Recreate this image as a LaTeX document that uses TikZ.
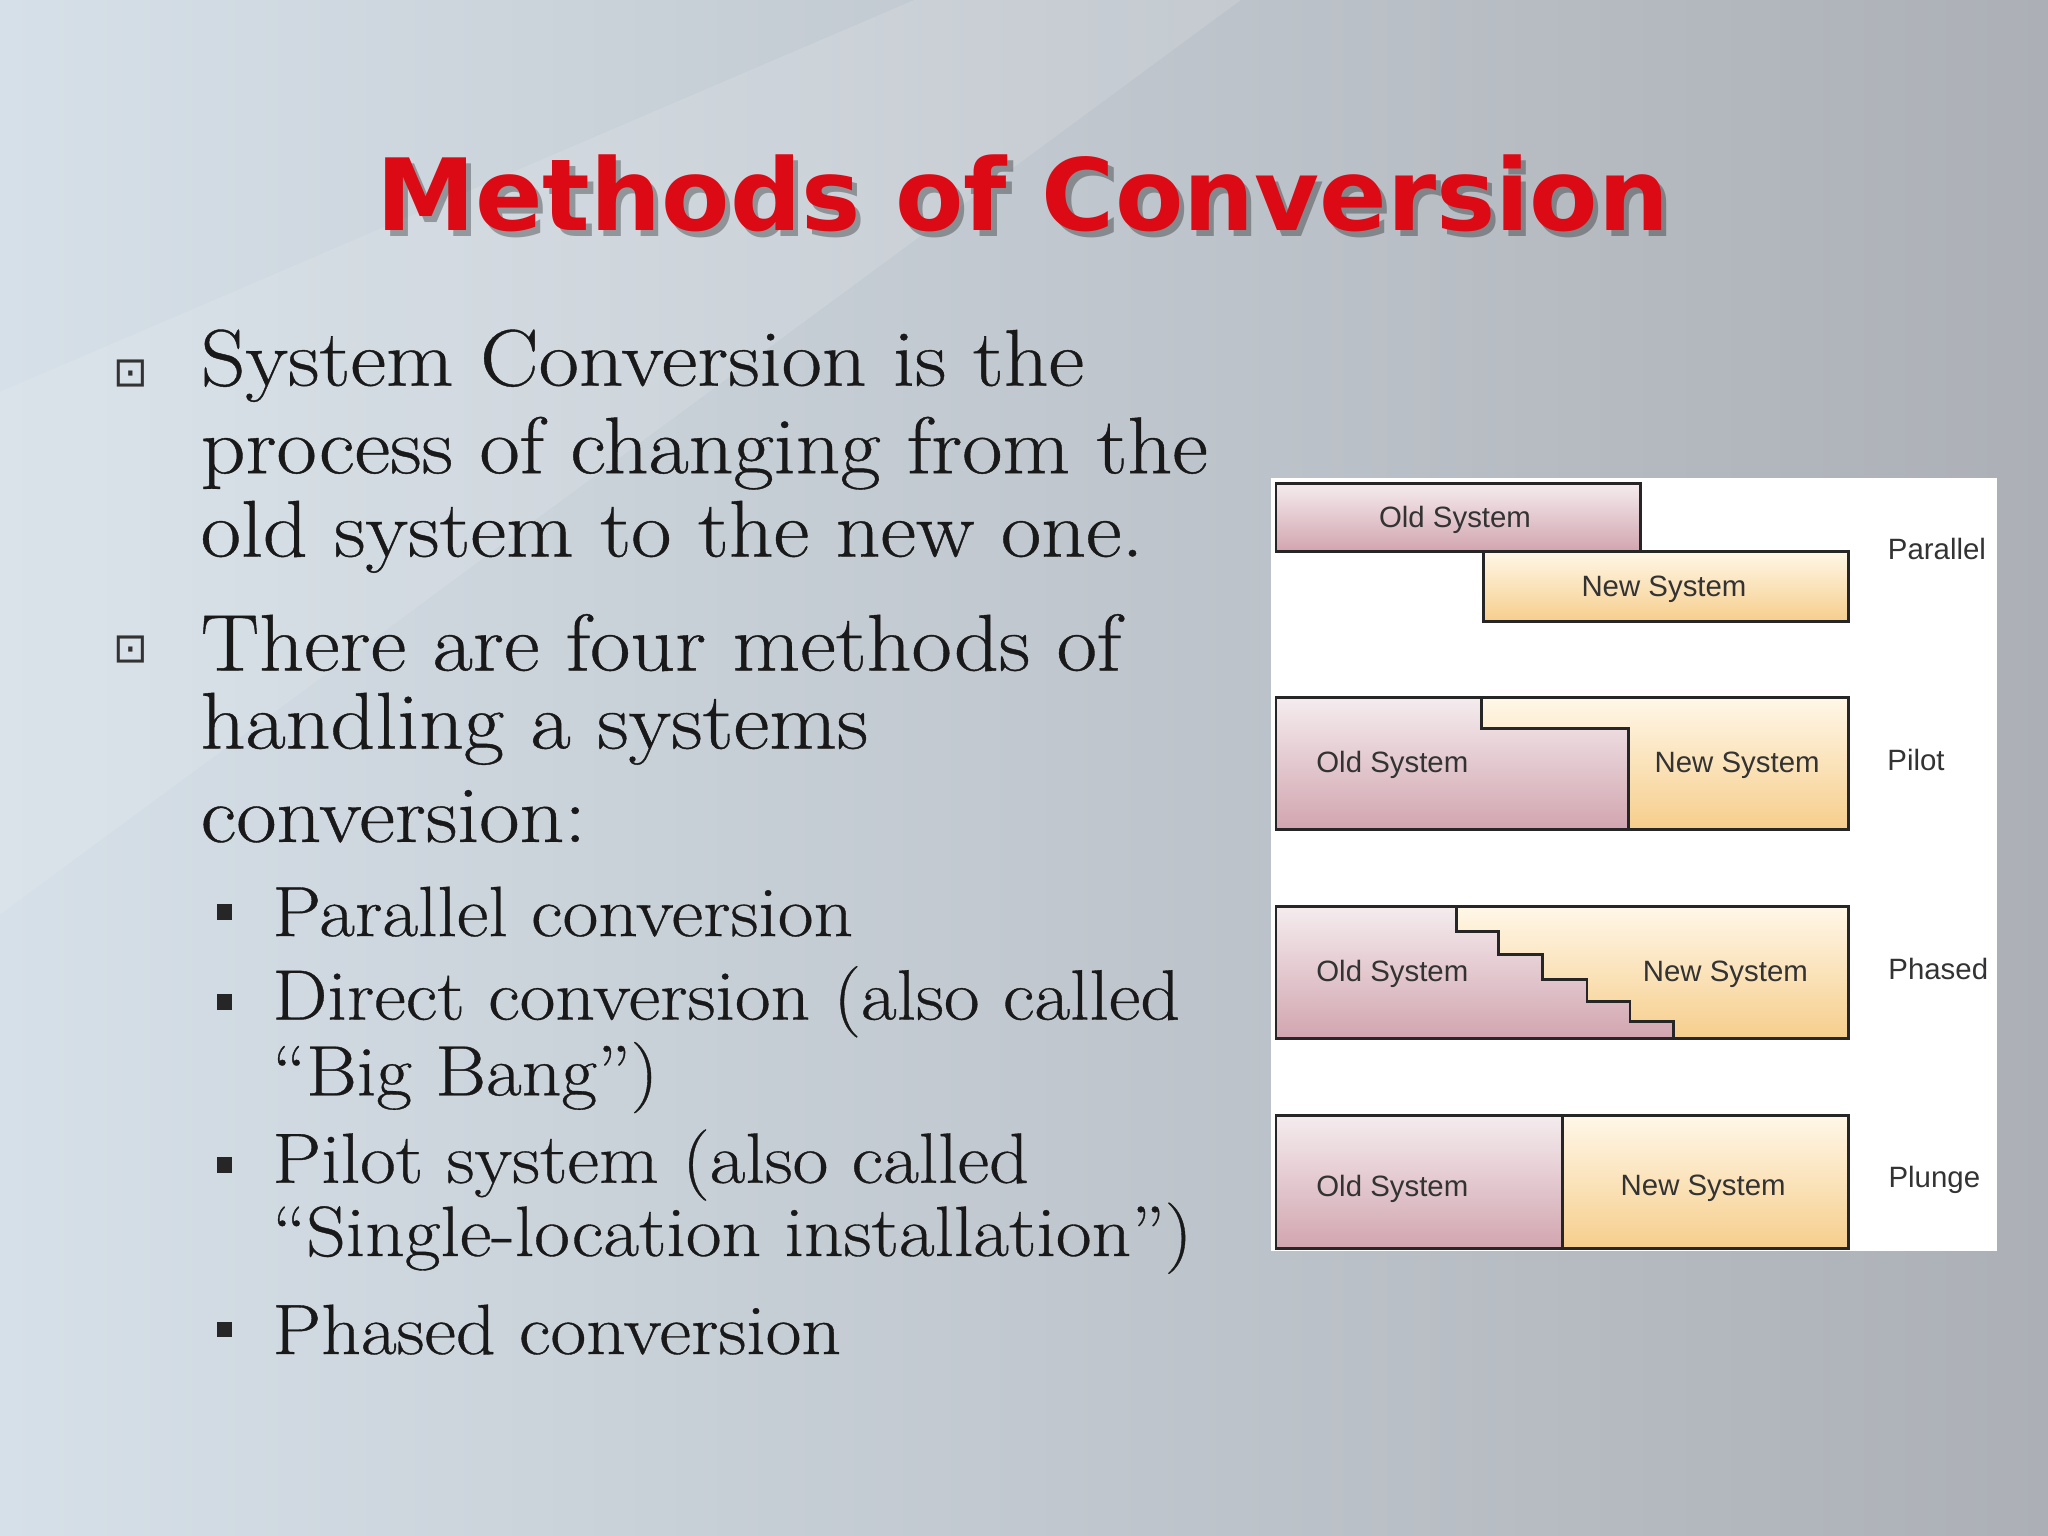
\documentclass[tikz,border=0pt]{standalone}
\usepackage{fontspec}
\setmainfont{Latin Modern Roman}[FakeStretch=1.09,FakeBold=0.5]
\setsansfont{Liberation Sans}
\newfontfamily\titlefont{DejaVu Sans}
\newfontfamily\symfont{DejaVu Sans}
\definecolor{bgL}{RGB}{214,224,232}
\definecolor{bgR}{RGB}{172,176,182}
\definecolor{oldT}{RGB}{244,236,238}
\definecolor{oldB}{RGB}{210,165,176}
\definecolor{newT}{RGB}{255,247,232}
\definecolor{newB}{RGB}{246,206,140}
\definecolor{ttl}{RGB}{220,10,20}
\tikzset{
 oldbox/.style={top color=oldT,bottom color=oldB,draw=black!85,line width=0.6pt},
 newbox/.style={top color=newT,bottom color=newB,draw=black!85,line width=0.6pt},
 boxtxt/.style={font=\sffamily\fontsize{6.4}{8}\selectfont,text=black!80,inner sep=0},
 lbl/.style={font=\sffamily\fontsize{6.4}{8}\selectfont,text=black!80,inner sep=0},
 body/.style={anchor=west,inner sep=0,font=\fontsize{17.5}{20}\selectfont,text=black!90},
 sub/.style={anchor=west,inner sep=0,font=\fontsize{15.5}{18}\selectfont,text=black!90},
 bul/.style={inner sep=0,font=\symfont\fontsize{9}{10}\selectfont,text=black!80},
}
\begin{document}
\begin{tikzpicture}[x=0.01cm,y=-0.01cm]
\useasboundingbox (0,0) rectangle (1568,1176);
\shade[left color=bgL,right color=bgR] (0,0) rectangle (1568,1176);
\fill[white,opacity=0.12] (0,300) -- (700,0) -- (950,0) -- (0,700) -- cycle;
% title
\node[font=\titlefont\bfseries\fontsize{21.7}{26}\selectfont,text=black,opacity=0.3] at (787,153) {Methods of Conversion};
\node[font=\titlefont\bfseries\fontsize{21.7}{26}\selectfont,text=ttl] (title) at (783,148) {Methods of Conversion};
% bullets
\node[bul] (b1) at (100,286) {⊡};
\node[body] (t1) at (153,280) {System Conversion is the};
\node[body] (t2) at (153,347) {process of changing from the};
\node[body] (t3) at (153,411) {old system to the new one.};
\node[bul] (b2) at (100,497) {⊡};
\node[body] (t4) at (153,492) {There are four methods of};
\node[body] (t5) at (153,558) {handling a systems};
\node[body] (t6) at (153,625) {conversion:};
\foreach \y in {698,767,892,1018}{
  \fill[black!85] (166,{\y-6}) rectangle (178,{\y+6});
}
\node[sub] (s1) at (208,698) {Parallel conversion};
\node[sub] (s2) at (208,767) {Direct conversion (also called};
\node[sub] (s2b) at (208,825) {“Big Bang”)};
\node[sub] (s3) at (208,892) {Pilot system (also called};
\node[sub] (s3b) at (208,948) {“Single-location installation”)};
\node[sub] (s4) at (208,1018) {Phased conversion};
% panel
\fill[white] (973,366) rectangle (1529,958);
% parallel
\draw[oldbox] (977,370) rectangle (1256,422);
\draw[newbox] (1136,422) rectangle (1415,476);
\node[boxtxt] at (1114,398) {Old System};
\node[boxtxt] at (1274,451) {New System};
\node[lbl] at (1483,420) {Parallel};
% pilot
\fill[newbox,draw=none] (977,534) rectangle (1415,635);
\fill[oldbox,draw=none] (977,534) -- (1134,534) -- (1134,558) -- (1247,558) -- (1247,635) -- (977,635) -- cycle;
\draw[black!85,line width=0.6pt] (1134,534) -- (1134,558) -- (1247,558) -- (1247,635);
\draw[black!85,line width=0.6pt] (977,534) rectangle (1415,635);
\node[boxtxt] at (1066,586) {Old System};
\node[boxtxt] at (1330,586) {New System};
\node[lbl] at (1467,582) {Pilot};
% phased
\fill[newbox,draw=none] (977,694) rectangle (1415,795);
\fill[oldbox,draw=none] (977,694) -- (1115,694) |- (1147,713) |- (1181,731) |- (1215,750) |- (1248,767) |- (1281,782) -- (1281,795) -- (977,795) -- cycle;
\draw[black!85,line width=0.6pt] (1115,694) |- (1147,713) |- (1181,731) |- (1215,750) |- (1248,767) |- (1281,782) -- (1281,795);
\draw[black!85,line width=0.6pt] (977,694) rectangle (1415,795);
\node[boxtxt] at (1066,746) {Old System};
\node[boxtxt] at (1321,746) {New System};
\node[lbl] at (1484,742) {Phased};
% plunge
\draw[oldbox] (977,854) rectangle (1196,956);
\draw[newbox] (1196,854) rectangle (1415,956);
\node[boxtxt] at (1066,910) {Old System};
\node[boxtxt] at (1304,910) {New System};
\node[lbl] at (1481,903) {Plunge};
\end{tikzpicture}
\end{document}
